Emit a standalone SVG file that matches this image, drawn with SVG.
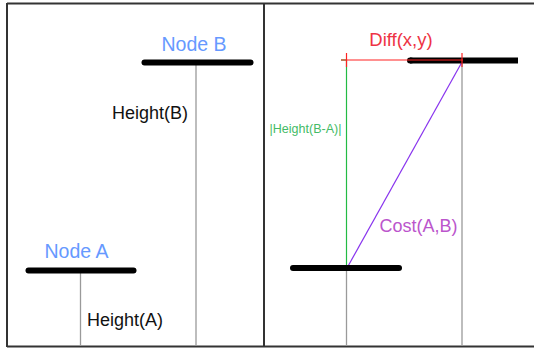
<svg xmlns="http://www.w3.org/2000/svg" width="534" height="349" viewBox="0 0 534 349">
<style>
.frame{stroke:#333;stroke-width:2;fill:none}
.bar{stroke:#000;stroke-width:6;stroke-linecap:round}
.pole{stroke:#9a9a9a;stroke-width:1.3}
.lbl{font-family:"Liberation Sans",Arial,sans-serif}
.node{fill:#6699ff;font-size:19.5px}
.h{fill:#111;font-size:18px}
</style>
<rect width="534" height="349" fill="#fff"/>
<g id="frame">
<line class="frame" x1="7" y1="3.5" x2="534" y2="3.5"/>
<line class="frame" x1="7" y1="346.5" x2="534" y2="346.5"/>
<line class="frame" x1="7" y1="3" x2="7" y2="347"/>
<line class="frame" x1="264" y1="3" x2="264" y2="347"/>
</g>
<g id="connectors">
<line class="pole" x1="196" y1="63" x2="196" y2="346"/>
<line class="pole" x1="80.5" y1="271" x2="80.5" y2="346"/>
<line class="pole" x1="346.5" y1="268" x2="346.5" y2="346" stroke="#888"/>
<line class="pole" x1="462" y1="60" x2="462" y2="346" stroke="#aaa" stroke-width="1.6"/>
<line x1="346.5" y1="60" x2="346.5" y2="268" stroke="#22bb44" stroke-width="1.2"/>
<line x1="341" y1="60" x2="346.5" y2="60" stroke="#22bb44" stroke-width="1.2"/>
<line x1="332" y1="268" x2="359" y2="268" stroke="#22aa44" stroke-width="1.2"/>
<line x1="347" y1="268" x2="462" y2="62" stroke="#8833ee" stroke-width="1.2"/>
</g>
<g id="nodeB">
<line class="bar" x1="144.5" y1="62.5" x2="250.5" y2="62.5"/>
<text class="lbl node" x="194" y="51" text-anchor="middle">Node B</text>
<text class="lbl h" x="150" y="119" text-anchor="middle">Height(B)</text>
</g>
<g id="nodeA">
<line class="bar" x1="28.5" y1="270.5" x2="133.5" y2="270.5"/>
<text class="lbl node" x="76.5" y="258" text-anchor="middle">Node A</text>
<text class="lbl h" x="125" y="325.5" text-anchor="middle">Height(A)</text>
</g>
<g id="nodeB2">
<line x1="410" y1="60.5" x2="518" y2="60.5" stroke="#000" stroke-width="6" stroke-linecap="butt"/>
<line x1="410" y1="60.5" x2="411" y2="60.5" stroke="#000" stroke-width="6" stroke-linecap="round"/>
</g>
<g id="nodeA2">
<line class="bar" x1="293" y1="268" x2="399" y2="268"/>
</g>
<g id="diff">
<line x1="341" y1="60" x2="463" y2="60" stroke="#ff2222" stroke-width="1.2"/>
<line x1="346.5" y1="53" x2="346.5" y2="67" stroke="#ff2222" stroke-width="1.2"/>
<line x1="462" y1="53" x2="462" y2="67" stroke="#ff2222" stroke-width="1.2"/>
<text class="lbl" x="401" y="46" text-anchor="middle" fill="#ee3344" font-size="18.5px">Diff(x,y)</text>
</g>
<g id="heightDiff">
<text class="lbl" x="305.5" y="133" text-anchor="middle" fill="#44bb66" font-size="12.5px">|Height(B-A)|</text>
</g>
<g id="cost">
<text class="lbl" x="418.5" y="232" text-anchor="middle" fill="#bb55cc" font-size="18px">Cost(A,B)</text>
</g>
</svg>
